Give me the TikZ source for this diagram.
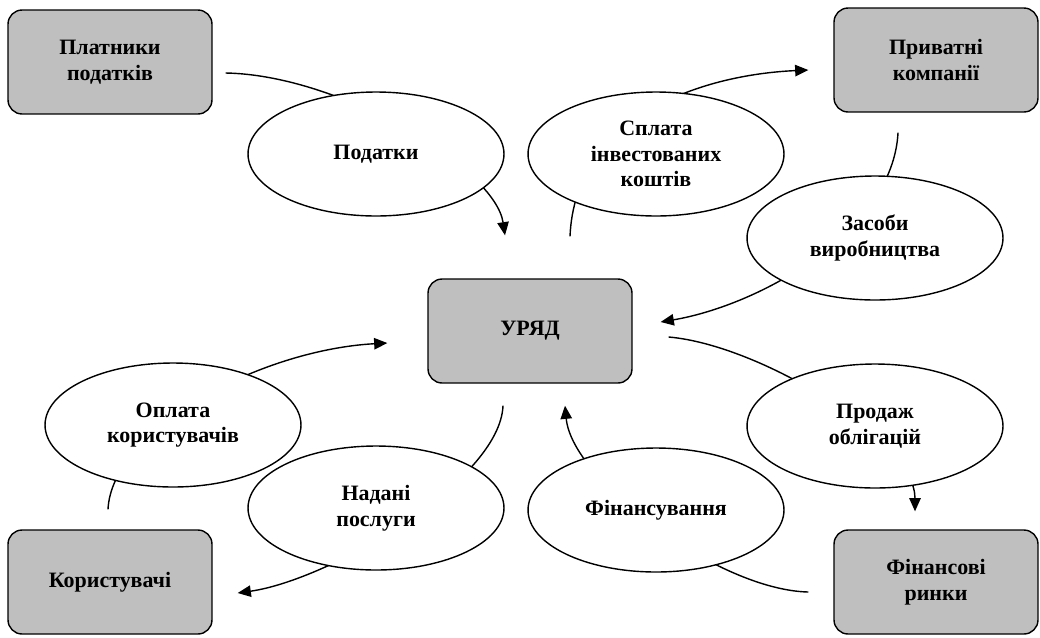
\documentclass[tikz,border=0pt]{standalone}
\usepackage{fontspec}
\setmainfont{Liberation Serif}
\usetikzlibrary{calc,positioning,shapes.geometric,arrows.meta}

\begin{document}
\begin{tikzpicture}[x=0.02cm, y=-0.02cm,
    agent/.style={draw,rounded corners=8pt,fill=black!25,line width=0.8pt,minimum width=4.08cm,minimum height=2.08cm,align=center,font=\fontsize{12.5}{14.5}\selectfont\bfseries},
    flow/.style={ellipse,draw,fill=white,line width=0.8pt,inner sep=0pt,minimum width=5.12cm,minimum height=2.48cm,align=center,font=\fontsize{12.5}{14.5}\selectfont\bfseries},
    link/.style={->,>={Triangle[length=7.5pt,width=6.5pt]},line width=0.8pt}]
              \useasboundingbox (0,0) rectangle (1040,637);

              \node[agent] (payers) at (110,62) {Платники\\податків};
              \node[agent] (firms) at (936,60) {Приватні\\компанії};
              \node[agent] (gov) at (530,331) {УРЯД};
              \node[agent] (users) at (110,582) {Користувачі};
              \node[agent] (markets) at (936,582) {Фінансові\\ринки};

              \draw[link] ($(payers.east)+(13,11)$) .. controls +(115,2) and +(-10,-67) .. ($(gov.north)+(-25,-43)$);
              \draw[link] ($(gov.north)+(40,-42)$) .. controls +(5,-118) and +(-110,5) .. ($(firms.west)+(-25,10)$);
              \draw[link] ($(firms.south)+(-38,20)$) .. controls +(-5,98) and +(100,-17) .. ($(gov.east)+(28,-9)$);
              \draw[link] ($(gov.east)+(36,6)$) .. controls +(92,8) and +(0,-72) .. ($(markets.north)+(-21,-18)$);
              \draw[link] ($(markets.west)+(-25,10)$) .. controls +(-90,-2) and +(7,75) .. ($(gov.south)+(35,22)$);
              \draw[link] ($(gov.south)+(-27,22)$) .. controls +(-3,75) and +(92,-13) .. ($(users.east)+(25,11)$);
              \draw[link] ($(users.north)+(-2,-20)$) .. controls +(4,-80) and +(-128,7) .. ($(gov.west)+(-40,12)$);

              \node[flow] (taxes) at (376,154) {Податки};
              \node[flow] (invest) at (656,154) {Сплата\\інвестованих\\коштів};
              \node[flow] (means) at (875,238) {Засоби\\виробництва};
              \node[flow] (bonds) at (875,426) {Продаж\\облігацій};
              \node[flow] (finance) at (656,510) {Фінансування};
              \node[flow] (services) at (376,508) {Надані\\послуги};
              \node[flow] (fees) at (173,425) {Оплата\\користувачів};
            \end{tikzpicture}
\end{document}
